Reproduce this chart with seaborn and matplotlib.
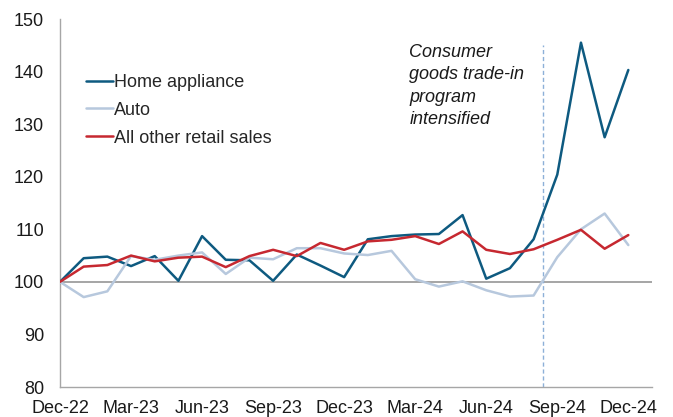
import numpy as np
import pandas as pd
import matplotlib
matplotlib.use("Agg")
import matplotlib.pyplot as plt
import seaborn as sns

months = ["Dec-22", "Jan-23", "Feb-23", "Mar-23", "Apr-23", "May-23", "Jun-23",
          "Jul-23", "Aug-23", "Sep-23", "Oct-23", "Nov-23", "Dec-23",
          "Jan-24", "Feb-24", "Mar-24", "Apr-24", "May-24", "Jun-24",
          "Jul-24", "Aug-24", "Sep-24", "Oct-24", "Nov-24", "Dec-24"]

home_appliance = [100.0, 104.5, 104.8, 103.0, 104.9, 100.2, 108.7, 104.2, 104.1,
                  100.2, 105.2, 103.1, 100.9, 108.1, 108.7, 109.0, 109.1, 112.7,
                  100.6, 102.6, 108.1, 120.4, 145.5, 127.5, 140.3]
auto = [100.0, 97.1, 98.2, 104.9, 104.2, 105.0, 105.6, 101.5, 104.6, 104.3,
        106.4, 106.4, 105.4, 105.1, 105.9, 100.5, 99.1, 100.1, 98.4, 97.2,
        97.4, 104.7, 110.0, 113.0, 107.0]
other_retail = [100.0, 102.9, 103.2, 105.0, 103.9, 104.6, 104.8, 102.8, 104.9,
                106.1, 104.9, 107.4, 106.1, 107.7, 108.0, 108.7, 107.2, 109.6,
                106.1, 105.3, 106.2, 108.0, 109.9, 106.3, 108.9]

series_names = ["Home appliance", "Auto", "All other retail sales"]
series_colors = ["#0E5A80", "#B7C8DD", "#C62830"]
tick_months = months[::3]
yticks = [80, 90, 100, 110, 120, 130, 140, 150]
event_pos = 20.4
event_text = "Consumer\ngoods trade-in\nprogram\nintensified"

idx = np.arange(len(months))
df = pd.DataFrame({
    "idx": np.tile(idx, 3),
    "value": home_appliance + auto + other_retail,
    "series": np.repeat(series_names, len(months)),
})

sns.set_style("white")
plt.rcParams["font.family"] = ["Liberation Sans", "DejaVu Sans"]
FS = 13

fig = plt.figure(figsize=(6.73, 4.17), dpi=100)
ax = fig.add_axes([60 / 673, 30 / 417, 592 / 673, 368 / 417])

ax.axhline(100, color="#9E9E9E", lw=1.3, zorder=1)
ax.vlines(event_pos, 80, 145, color="#8DB0D8", lw=1.0, ls=(0, (3, 2)), zorder=1)

sns.lineplot(data=df, x="idx", y="value", hue="series", hue_order=series_names,
             palette=series_colors, linewidth=1.8, ax=ax, zorder=3)

ax.set_xlim(0, 25)
ax.set_ylim(80, 150)
ax.set_yticks(yticks)
ax.set_yticklabels([str(v) for v in yticks], fontsize=FS)
ax.set_xticks(idx[::3])
ax.set_xticklabels(tick_months, fontsize=FS)
ax.set_xlabel("")
ax.set_ylabel("")

for side in ["top", "right"]:
    ax.spines[side].set_visible(False)
for side in ["left", "bottom"]:
    ax.spines[side].set_color("#A6A6A6")
    ax.spines[side].set_linewidth(1.0)
ax.tick_params(axis="both", which="major", length=4.5, width=1.0, color="#A6A6A6",
               direction="out", labelcolor="#1A1A1A")
ax.tick_params(axis="y", pad=7)
ax.tick_params(axis="x", pad=5)

leg = ax.legend(loc="upper left", bbox_to_anchor=(0.016, 0.895), frameon=False,
                fontsize=FS, handlelength=1.5, handletextpad=0.05,
                labelspacing=0.6)

ax.text(14.75, 145.2, event_text, fontsize=FS, style="italic", color="#1A1A1A",
        ha="left", va="top", linespacing=1.4)

fig.savefig("out.png", dpi=100)
